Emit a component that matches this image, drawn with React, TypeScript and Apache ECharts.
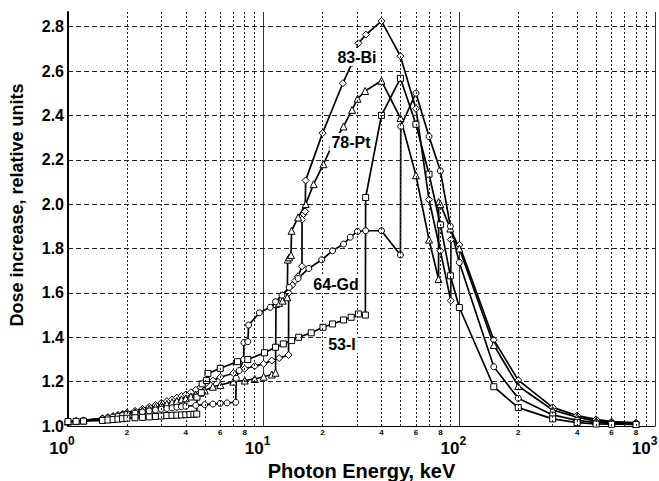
import React, { useEffect, useRef } from "react";
import * as echarts from "echarts";

// Photon energy (keV) vs dose increase (relative units)
const bi83: [number, number][] = [
  [1.0, 1.02], [1.1, 1.022], [1.2, 1.025], [1.5, 1.035], [1.6, 1.04], [1.7, 1.045], [1.8, 1.05], [1.9, 1.055],
  [2.0, 1.06], [2.2, 1.068], [2.4, 1.077], [2.6, 1.086], [2.8, 1.095], [3.0, 1.104], [3.2, 1.112], [3.4, 1.12],
  [3.6, 1.128], [3.8, 1.135], [4.0, 1.142], [4.25, 1.152], [4.5, 1.163], [4.75, 1.175], [5.0, 1.187], [5.5, 1.205],
  [6.0, 1.22], [7.0, 1.238], [8.0, 1.258], [9.0, 1.27], [10.0, 1.28], [11.0, 1.295], [12.0, 1.306], [13.4, 1.32],
  [13.42, 1.6], [14.0, 1.635], [14.5, 1.655], [15.0, 1.675], [15.7, 1.72], [15.71, 1.93], [16.0, 1.955], [16.3, 1.967],
  [16.39, 2.107], [20, 2.32], [25.4, 2.545], [28.3, 2.636], [30.5, 2.725], [33.3, 2.764], [40, 2.825], [50, 2.667],
  [60, 2.43], [70, 2.02], [80, 1.79], [90.4, 1.565], [90.5, 1.84], [100, 1.816], [150, 1.388], [200, 1.207],
  [300, 1.084], [400, 1.047], [500, 1.03], [600, 1.02], [800, 1.015],
];

const pt78: [number, number][] = [
  [1.0, 1.02], [1.1, 1.022], [1.2, 1.025], [1.5, 1.033], [1.6, 1.037], [1.7, 1.041], [1.8, 1.046], [1.9, 1.05],
  [2.0, 1.055], [2.2, 1.062], [2.4, 1.07], [2.6, 1.078], [2.8, 1.086], [3.0, 1.094], [3.2, 1.1], [3.4, 1.107],
  [3.6, 1.113], [3.8, 1.12], [4.0, 1.125], [4.25, 1.133], [4.5, 1.142], [4.75, 1.15], [5.0, 1.16], [5.5, 1.177],
  [6.0, 1.185], [7.0, 1.2], [8.0, 1.205], [9.0, 1.212], [10.0, 1.222], [11.0, 1.232], [11.5, 1.24], [11.56, 1.55],
  [12.0, 1.555], [12.5, 1.565], [13.2, 1.58], [13.27, 1.75], [13.5, 1.76], [13.8, 1.77], [13.88, 1.88], [15.0, 1.94],
  [16.4, 2.0], [18, 2.09], [20.2, 2.18], [22.5, 2.27], [25.6, 2.35], [28.3, 2.425], [30.2, 2.475], [33, 2.51],
  [40, 2.556], [50, 2.388], [60, 2.13], [70, 1.84], [78.3, 1.662], [78.4, 2.01], [80, 2.0], [90, 1.89],
  [100, 1.8], [150, 1.365], [200, 1.18], [300, 1.072], [400, 1.04], [500, 1.022], [600, 1.015], [800, 1.01],
];

const gd64: [number, number][] = [
  [1.0, 1.02], [1.1, 1.022], [1.2, 1.024], [1.5, 1.032], [1.6, 1.036], [1.7, 1.04], [1.8, 1.044], [1.9, 1.048],
  [2.0, 1.052], [2.2, 1.058], [2.4, 1.063], [2.6, 1.068], [2.8, 1.072], [3.0, 1.076], [3.2, 1.079], [3.4, 1.082],
  [3.6, 1.085], [3.8, 1.087], [4.0, 1.089], [4.5, 1.093], [5.0, 1.096], [5.5, 1.099], [6.0, 1.102], [6.5, 1.104],
  [7.2, 1.107], [7.24, 1.215], [7.5, 1.25], [7.9, 1.3], [7.93, 1.376], [8.3, 1.38], [8.38, 1.455], [9.5, 1.51],
  [10.8, 1.535], [11.5, 1.56], [12.4, 1.59], [13.5, 1.625], [15, 1.665], [17, 1.71], [19.8, 1.749], [22.5, 1.79],
  [25.6, 1.82], [27.7, 1.851], [30.2, 1.877], [33.2, 1.88], [40, 1.88], [50, 1.771], [50.2, 2.35], [60, 2.5],
  [70, 2.305], [80, 2.15], [90, 1.9], [100, 1.737], [150, 1.267], [200, 1.125], [300, 1.05], [400, 1.025],
  [500, 1.015], [600, 1.012], [800, 1.01],
];

const i53: [number, number][] = [
  [1.0, 1.02], [1.1, 1.021], [1.2, 1.022], [1.5, 1.025], [1.6, 1.027], [1.7, 1.029], [1.8, 1.031], [1.9, 1.033],
  [2.0, 1.035], [2.2, 1.037], [2.4, 1.039], [2.6, 1.041], [2.8, 1.043], [3.0, 1.045], [3.2, 1.047], [3.4, 1.048],
  [3.6, 1.049], [3.8, 1.05], [4.0, 1.051], [4.2, 1.052], [4.4, 1.053], [4.55, 1.054], [4.56, 1.13], [4.8, 1.15],
  [4.85, 1.19], [5.1, 1.205], [5.19, 1.237], [6.0, 1.26], [7.35, 1.29], [8.3, 1.3], [10.1, 1.33], [11.5, 1.355],
  [12.6, 1.37], [13.9, 1.385], [15.1, 1.4], [17.5, 1.42], [20.1, 1.445], [22.5, 1.46], [25.6, 1.478], [28, 1.49],
  [30.5, 1.505], [33.1, 1.5], [33.2, 2.03], [40, 2.4], [50, 2.567], [60, 2.36], [70, 2.135], [80, 1.907],
  [90, 1.677], [100, 1.534], [150, 1.177], [200, 1.083], [300, 1.032], [400, 1.015], [500, 1.009], [600, 1.008],
  [800, 1.007],
];

const seriesNames = ["83-Bi", "78-Pt", "64-Gd", "53-I"];
const yGridValues = [1.2, 1.4, 1.6, 1.8, 2.0, 2.2, 2.4, 2.6, 2.8];
const minorGridValues = [2, 3, 4, 5, 6, 7, 8, 9, 20, 30, 40, 50, 60, 70, 80, 90, 200, 300, 400, 500, 600, 700, 800, 900];
const minorLabelDigits = [2, 4, 6, 8];

const FONT = "'Liberation Sans', Arial, Helvetica, sans-serif";

export default function App() {
  const ref = useRef<HTMLDivElement>(null);

  useEffect(() => {
    if (!ref.current) return;
    const chart = echarts.init(ref.current, null, { renderer: "svg" });

    const mkSeries = (name: string, data: [number, number][], symbol: string, size: number) => ({
      name,
      type: "line",
      data,
      symbol,
      symbolSize: size,
      showSymbol: true,
      showAllSymbol: true,
      lineStyle: { color: "#000", width: 1.7 },
      itemStyle: { color: "#fff", borderColor: "#000", borderWidth: 1 },
      z: 3,
    });

    const minorData = minorGridValues.map((v) => {
      const digit = Math.round(v / Math.pow(10, Math.floor(Math.log10(v))));
      const show = minorLabelDigits.includes(digit);
      return {
        xAxis: v,
        label: show
          ? { show: true, position: "start", formatter: String(digit), fontSize: 8, fontWeight: "bold", color: "#000", distance: 2, fontFamily: FONT }
          : { show: false },
      };
    });

    const supStyle = { fontSize: 12, fontWeight: "bold", color: "#000", fontFamily: FONT, verticalAlign: "top", lineHeight: 22 };

    chart.setOption({
      animation: false,
      backgroundColor: "#fff",
      grid: { left: 68, right: 4, top: 12, bottom: 55, containLabel: false, outerBoundsMode: "none" },
      xAxis: {
        type: "log",
        logBase: 10,
        min: 1,
        max: 1000,
        name: "Photon Energy, keV",
        nameLocation: "middle",
        nameGap: 35,
        nameMoveOverlap: false,
        nameTextStyle: { fontSize: 20, fontWeight: "bold", color: "#000", fontFamily: FONT },
        axisLine: { show: true, lineStyle: { color: "#000", width: 1 } },
        axisTick: { show: false },
        axisLabel: {
          margin: 9,
          padding: [0, 12, 0, 0],
          hideOverlap: false,
          formatter: (v: number) => {
            const e = Math.round(Math.log10(v));
            return e === 3 ? `{b|10}{t|${e}}` : `{b|10}{s|${e}}`;
          },
          rich: {
            b: { fontSize: 17, fontWeight: "bold", color: "#000", fontFamily: FONT, lineHeight: 22, verticalAlign: "bottom" },
            s: supStyle,
            t: { ...supStyle, padding: [0, 9, 0, 0] },
          },
        },
        splitLine: { show: true, lineStyle: { color: "#333", width: 1, type: "solid" } },
      },
      yAxis: {
        type: "value",
        min: 1.0,
        max: 2.866,
        interval: 0.2,
        name: "Dose increase, relative units",
        nameLocation: "middle",
        nameGap: 42,
        nameMoveOverlap: false,
        nameTextStyle: { fontSize: 18, fontWeight: "bold", color: "#000", fontFamily: FONT, padding: [0, 0, 0, 28] },
        axisLine: { show: true, lineStyle: { color: "#000", width: 2 } },
        axisTick: { show: false },
        axisLabel: {
          margin: 4,
          showMaxLabel: false,
          formatter: (v: number) => v.toFixed(1),
          fontSize: 16,
          fontWeight: "bold",
          color: "#000",
          fontFamily: FONT,
        },
        splitLine: { show: false },
      },
      graphic: [
        { type: "text", x: 357, y: 57, z: 100, style: { text: seriesNames[0], fill: "#000", font: `bold 16px ${FONT}`, align: "center", verticalAlign: "middle", backgroundColor: "#fff", padding: [1, 2] } },
        { type: "text", x: 351, y: 142, z: 100, style: { text: seriesNames[1], fill: "#000", font: `bold 16px ${FONT}`, align: "center", verticalAlign: "middle", backgroundColor: "#fff", padding: [1, 2] } },
        { type: "text", x: 336, y: 284, z: 100, style: { text: seriesNames[2], fill: "#000", font: `bold 16px ${FONT}`, align: "center", verticalAlign: "middle", backgroundColor: "#fff", padding: [1, 2] } },
        { type: "text", x: 342, y: 344, z: 100, style: { text: seriesNames[3], fill: "#000", font: `bold 16px ${FONT}`, align: "center", verticalAlign: "middle", backgroundColor: "#fff", padding: [1, 2] } },
      ],
      series: [
        {
          type: "line",
          data: [],
          silent: true,
          z: 1,
          markLine: {
            silent: true,
            symbol: ["none", "none"],
            animation: false,
            lineStyle: { color: "#222", width: 1, type: [2, 2] },
            data: minorData,
          },
        },
        {
          type: "line",
          data: [],
          silent: true,
          z: 1,
          markLine: {
            silent: true,
            symbol: ["none", "none"],
            animation: false,
            label: { show: false },
            lineStyle: { color: "#222", width: 1, type: [5, 3] },
            data: yGridValues.map((v) => ({ yAxis: v })),
          },
        },
        mkSeries(seriesNames[0], bi83, "diamond", 7),
        mkSeries(seriesNames[1], pt78, "triangle", 7),
        mkSeries(seriesNames[2], gd64, "circle", 6),
        mkSeries(seriesNames[3], i53, "rect", 6),
      ],
    });

    return () => chart.dispose();
  }, []);

  return <div ref={ref} style={{ position: "absolute", left: 0, top: 0, width: 659, height: 481 }} />;
}
